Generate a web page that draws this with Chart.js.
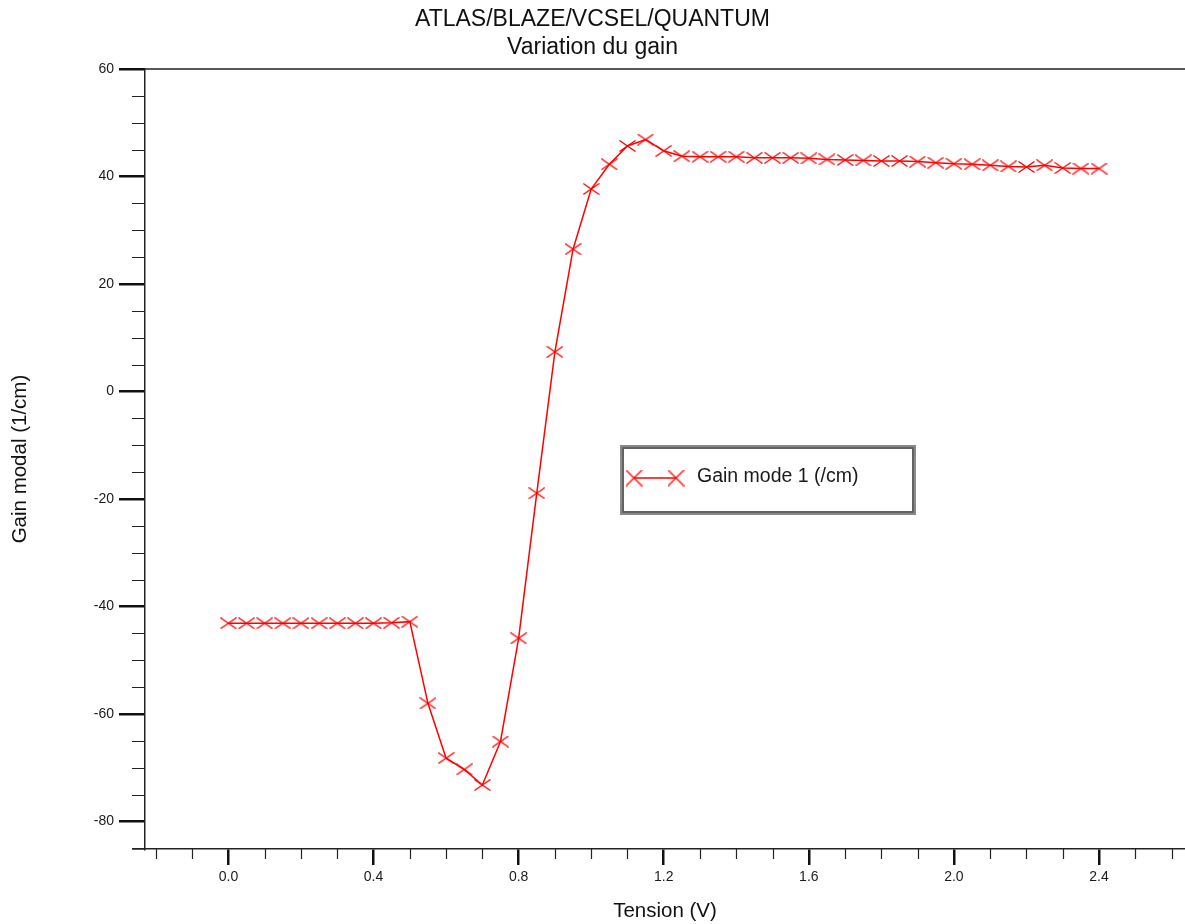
<!DOCTYPE html>
<html>
<head>
<meta charset="utf-8">
<script src="https://cdn.jsdelivr.net/npm/chart.js@4"></script>
<style>
  body { margin: 0; background: #fff; overflow: hidden; }
  #wrap { width: 1185px; height: 924px; position: relative; }
</style>
</head>
<body>
<div id="wrap"><canvas id="gain-chart"></canvas></div>
<script>
// tension (V) and modal gain (1/cm)
const tension = [0, 0.05, 0.1, 0.15, 0.2, 0.25, 0.3, 0.35, 0.4, 0.45,
    0.5, 0.55, 0.6, 0.65, 0.7, 0.75, 0.8, 0.85, 0.9, 0.95,
    1.0, 1.05, 1.1, 1.15, 1.2, 1.25, 1.3, 1.35, 1.4, 1.45,
    1.5, 1.55, 1.6, 1.65, 1.7, 1.75, 1.8, 1.85, 1.9, 1.95,
    2.0, 2.05, 2.1, 2.15, 2.2, 2.25, 2.3, 2.35, 2.4];
const gainMode1 = [-43.1, -43.1, -43.1, -43.1, -43.1, -43.1, -43.1, -43.1, -43.1, -43.0,
    -42.8, -58.0, -68.2, -70.3, -73.2, -65.1, -45.9, -18.9, 7.4, 26.5,
    37.7, 42.3, 45.7, 46.9, 44.8, 43.8, 43.7, 43.7, 43.7, 43.5,
    43.5, 43.5, 43.4, 43.2, 43.1, 43.0, 42.9, 42.9, 42.8, 42.6,
    42.4, 42.3, 42.1, 41.9, 41.8, 42.1, 41.6, 41.5, 41.5];
const xTicks = [0.0, 0.4, 0.8, 1.2, 1.6, 2.0, 2.4];
const yTicks = [-80, -60, -40, -20, 0, 20, 40, 60];
const titleLines = ['ATLAS/BLAZE/VCSEL/QUANTUM', 'Variation du gain'];
const seriesName = 'Gain mode 1 (/cm)';

const FONT = '"Liberation Sans", Arial, sans-serif';
const RED = '#ff0000';

function crossMarker(w, h) {
    const c = document.createElement('canvas');
    c.width = w; c.height = h;
    const g = c.getContext('2d');
    g.strokeStyle = RED;
    g.lineWidth = 1.3;
    g.beginPath();
    g.moveTo(0.5, 0.5); g.lineTo(w - 0.5, h - 0.5);
    g.moveTo(w - 0.5, 0.5); g.lineTo(0.5, h - 0.5);
    g.stroke();
    return c;
}
const marker = crossMarker(17, 12);
const legendMarker = crossMarker(17, 17);

// minor ticks, axis extension, top frame line and the boxed legend
const decorations = {
    id: 'decorations',
    afterDraw(chart) {
        const ctx = chart.ctx;
        const a = chart.chartArea;
        const xs = chart.scales.x, ys = chart.scales.y;
        ctx.save();
        ctx.strokeStyle = '#222';
        ctx.lineWidth = 1.5;
        ctx.beginPath();
        ctx.moveTo(a.left, a.top); ctx.lineTo(a.right, a.top);
        ctx.moveTo(a.left - 13, a.bottom); ctx.lineTo(a.left, a.bottom);
        ctx.stroke();

        ctx.lineWidth = 1.2;
        ctx.beginPath();
        for (let i = Math.ceil(xs.min * 10); i <= Math.floor(xs.max * 10); i++) {
            if (i % 4 === 0) continue;
            const px = Math.round(xs.getPixelForValue(i / 10)) + 0.5;
            ctx.moveTo(px, a.bottom); ctx.lineTo(px, a.bottom + 10);
        }
        for (let v = Math.ceil(ys.min / 5) * 5; v <= ys.max; v += 5) {
            if (v % 20 === 0) continue;
            const py = Math.round(ys.getPixelForValue(v)) + 0.5;
            ctx.moveTo(a.left - 13, py); ctx.lineTo(a.left, py);
        }
        ctx.stroke();

        // legend box
        const bx = Math.round(a.left + 0.457 * a.width), by = Math.round(a.top + 0.482 * a.height);
        const bw = 296, bh = 70;
        ctx.fillStyle = '#fff';
        ctx.fillRect(bx, by, bw, bh);
        ctx.lineWidth = 4;
        ctx.strokeStyle = '#8a8a8a';
        ctx.strokeRect(bx + 2, by + 2, bw - 4, bh - 4);
        ctx.lineWidth = 1.5;
        ctx.strokeStyle = '#555';
        ctx.strokeRect(bx + 3, by + 3, bw - 6, bh - 6);

        const ly = by + 33;
        ctx.strokeStyle = RED;
        ctx.lineWidth = 1.3;
        ctx.beginPath();
        ctx.moveTo(bx + 14, ly); ctx.lineTo(bx + 56, ly);
        ctx.stroke();
        ctx.drawImage(legendMarker, bx + 14 - 8.5, ly - 8.5);
        ctx.drawImage(legendMarker, bx + 56 - 8.5, ly - 8.5);
        ctx.fillStyle = '#1a1a1a';
        ctx.font = '19.5px ' + FONT;
        ctx.textBaseline = 'middle';
        ctx.textAlign = 'left';
        ctx.fillText(seriesName, bx + 77, ly - 1);
        ctx.restore();
    }
};

const points = tension.map((t, i) => ({ x: t, y: gainMode1[i] }));

new Chart(document.getElementById('gain-chart'), {
    type: 'line',
    data: {
        datasets: [{
            label: seriesName,
            data: points,
            borderColor: RED,
            borderWidth: 1.5,
            pointStyle: marker,
            pointRadius: 8,
            tension: 0,
            fill: false
        }]
    },
    options: {
        responsive: true,
        maintainAspectRatio: false,
        animation: false,
        layout: { padding: 0, autoPadding: false },
        plugins: {
            legend: { display: false },
            tooltip: { enabled: false },
            title: {
                display: true,
                text: titleLines,
                color: '#111',
                font: { family: FONT, size: 23, weight: 'normal', lineHeight: 1.22 },
                padding: { top: 6, bottom: 7 }
            }
        },
        scales: {
            x: {
                type: 'linear',
                min: -0.23,
                max: 2.637,
                afterBuildTicks: (scale) => { scale.ticks = xTicks.map(v => ({ value: v })); },
                afterFit: (scale) => {
                    scale.height = 75;
                    scale.paddingLeft = 0;
                    scale.paddingRight = 0;
                },
                ticks: {
                    color: '#1a1a1a',
                    font: { family: FONT, size: 14 },
                    padding: 4,
                    maxRotation: 0,
                    callback: (v) => Number(v).toFixed(1)
                },
                grid: { drawOnChartArea: false, drawTicks: true, tickLength: 16, lineWidth: 2.5, color: '#111' },
                border: { display: true, color: '#222', width: 1.5 },
                title: {
                    display: true,
                    text: 'Tension (V)',
                    color: '#111',
                    font: { family: FONT, size: 20.5 },
                    padding: { top: 2, bottom: 0 }
                }
            },
            y: {
                type: 'linear',
                min: -85.1,
                max: 60,
                afterBuildTicks: (scale) => { scale.ticks = yTicks.map(v => ({ value: v })); },
                afterFit: (scale) => { scale.width = 145; },
                ticks: {
                    color: '#1a1a1a',
                    font: { family: FONT, size: 14 },
                    padding: 5
                },
                grid: { drawOnChartArea: false, drawTicks: true, tickLength: 26, lineWidth: 2.5, color: '#111' },
                border: { display: true, color: '#222', width: 1.5 },
                title: {
                    display: true,
                    text: 'Gain modal (1/cm)',
                    color: '#111',
                    font: { family: FONT, size: 20.5 },
                    padding: { top: 8, bottom: 0 }
                }
            }
        }
    },
    plugins: [decorations]
});
</script>
</body>
</html>
